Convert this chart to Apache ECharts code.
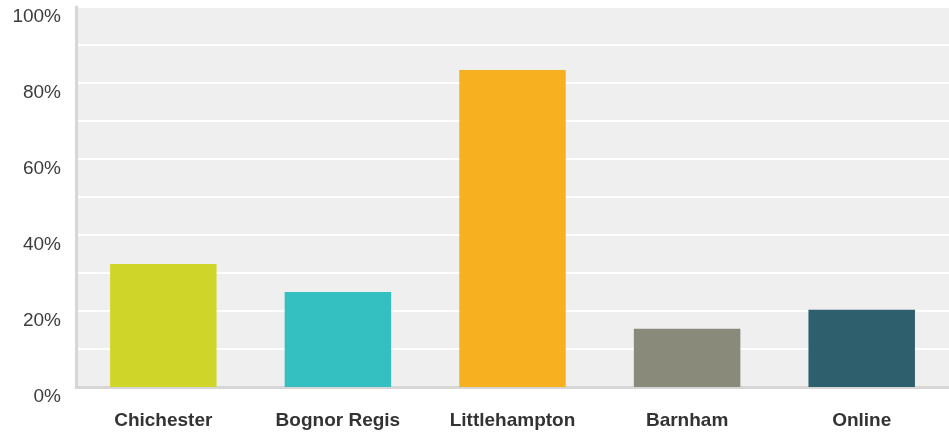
<!DOCTYPE html>
<html><head><meta charset="utf-8">
<script src="https://cdn.jsdelivr.net/npm/echarts@6/dist/echarts.min.js"></script>
<style>html,body{margin:0;padding:0;background:#fff}#c{width:949px;height:432px}</style>
</head><body><div id="c"></div>
<script>
const categories = ['Chichester', 'Bognor Regis', 'Littlehampton', 'Barnham', 'Online'];
const values = [32.4, 25.0, 83.4, 15.3, 20.3];
const colors = ['#d0d52a', '#34bfc1', '#f7b020', '#8a8a7a', '#2e5f6c'];
const yTickLabels = {0:'0%',20:'20%',40:'40%',60:'60%',80:'80%',100:'100%'};

const chart = echarts.init(document.getElementById('c'), null, {renderer:'canvas'});
chart.setOption({
  animation: false,
  grid: {left: 76, right: 0, top: 7, bottom: 45, show: true, backgroundColor: '#efefef', borderWidth: 0,
         containLabel: false, outerBoundsMode: 'none'},
  xAxis: {
    type: 'category', data: categories,
    axisLine: {show: true, lineStyle: {color: '#d6d6d6', width: 3}},
    axisTick: {show: false},
    axisLabel: {color: '#333', fontFamily: 'Liberation Sans, Arial', fontWeight: 'bold', fontSize: 19, margin: 24}
  },
  yAxis: {
    type: 'value', min: 0, max: 100, interval: 10,
    axisLine: {show: true, lineStyle: {color: '#d6d6d6', width: 3}},
    axisTick: {show: false},
    splitLine: {show: true, lineStyle: {color: '#ffffff', width: 2}},
    axisLabel: {
      color: '#3c3c3c', fontFamily: 'Liberation Sans, Arial', fontSize: 19, margin: 15,
      verticalAlign: 'top', lineHeight: 20,
      formatter: v => (yTickLabels[v] !== undefined ? yTickLabels[v] : '')
    }
  },
  series: [{
    type: 'bar',
    data: values.map((v, i) => ({value: v, itemStyle: {color: colors[i]}})),
    barCategoryGap: '39%'
  }]
});
</script></body></html>
